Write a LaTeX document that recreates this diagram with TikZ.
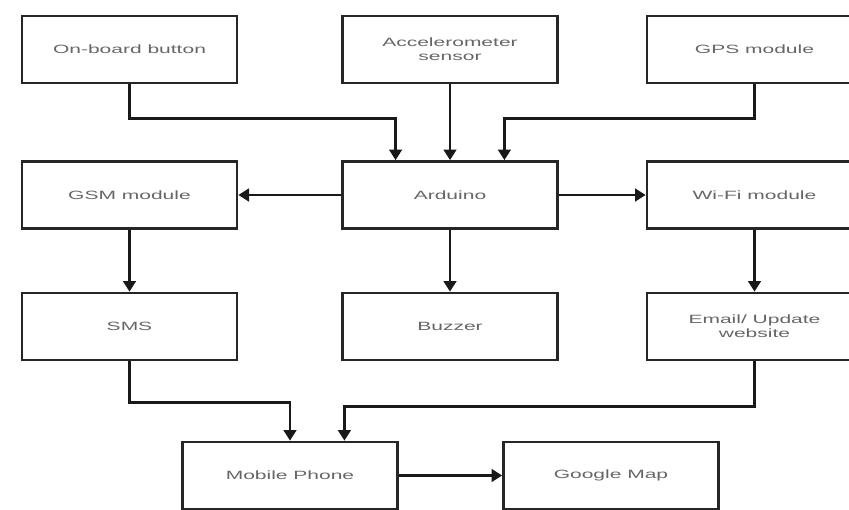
\documentclass[tikz,border=0pt]{standalone}
\usepackage{fontspec}
\setmainfont{Liberation Sans}[FakeStretch=1.75]
\usetikzlibrary{arrows.meta,calc}

\tikzset{every picture/.style={line width=0.75pt}}
\tikzset{
  blockbox/.style={draw=black!85, line width=2pt, fill=white, minimum width=161.25pt, minimum height=50.25pt,
    inner sep=0pt, align=center, text=black!60, font=\fontsize{9}{10.5}\selectfont},
  flow/.style={draw=black!90, line width=2pt, -{Triangle[length=8pt,width=9.5pt]}}
}

\begin{document}
\begin{tikzpicture}[x=0.75pt,y=0.75pt,yscale=-1,xscale=1]
\useasboundingbox (0,0) rectangle (849,510);
\clip (0,0) rectangle (849,510);

%Shape: Rectangle, top row
\node [blockbox] (btn) at (129.5,49.5) {On-board button};
\node [blockbox] (acc) at (450,49.5) {Accelerometer\\sensor};
\node [blockbox] (gps) at (754.5,49.5) {GPS module};
%Shape: Rectangle, second row
\node [blockbox] (gsm) at (129.5,195) {GSM module};
\node [blockbox] (ard) at (450,195) {Arduino};
\node [blockbox] (wifi) at (754.5,195) {Wi-Fi module};
%Shape: Rectangle, third row
\node [blockbox] (sms) at (129.5,326.5) {SMS};
\node [blockbox] (buz) at (450,326.5) {Buzzer};
\node [blockbox] (mail) at (754.5,326.5) {Email/ Update\\website};
%Shape: Rectangle, bottom row
\node [blockbox] (mob) at (290,475.5) {Mobile Phone};
\node [blockbox] (gmap) at (611,475.5) {Google Map};

% inputs to Arduino
\coordinate (ardA) at ($(ard.north)!0.5!(ard.north west)$);
\coordinate (ardB) at ($(ard.north)!0.5!(ard.north east)$);
\coordinate (mobB) at ($(mob.north)!0.5!(mob.north east)$);

% Connection
\draw [flow] (btn.south) -- ++(0,34) -| (ardA);
\draw [flow] (acc.south) -- (ard.north);
\draw [flow] (gps.south) -- ++(0,34) -| (ardB);
% Connection
\draw [flow] (ard.west) -- (gsm.east);
\draw [flow] (ard.east) -- (wifi.west);
% Connection
\draw [flow] (gsm.south) -- (sms.north);
\draw [flow] (ard.south) -- (buz.north);
\draw [flow] (wifi.south) -- (mail.north);
% Connection
\draw [flow] (sms.south) -- ++(0,41) -| (mob.north);
\draw [flow] (mail.south) -- ++(0,45) -| (mobB);
\draw [flow] (mob.east) -- (gmap.west);

\end{tikzpicture}
\end{document}
